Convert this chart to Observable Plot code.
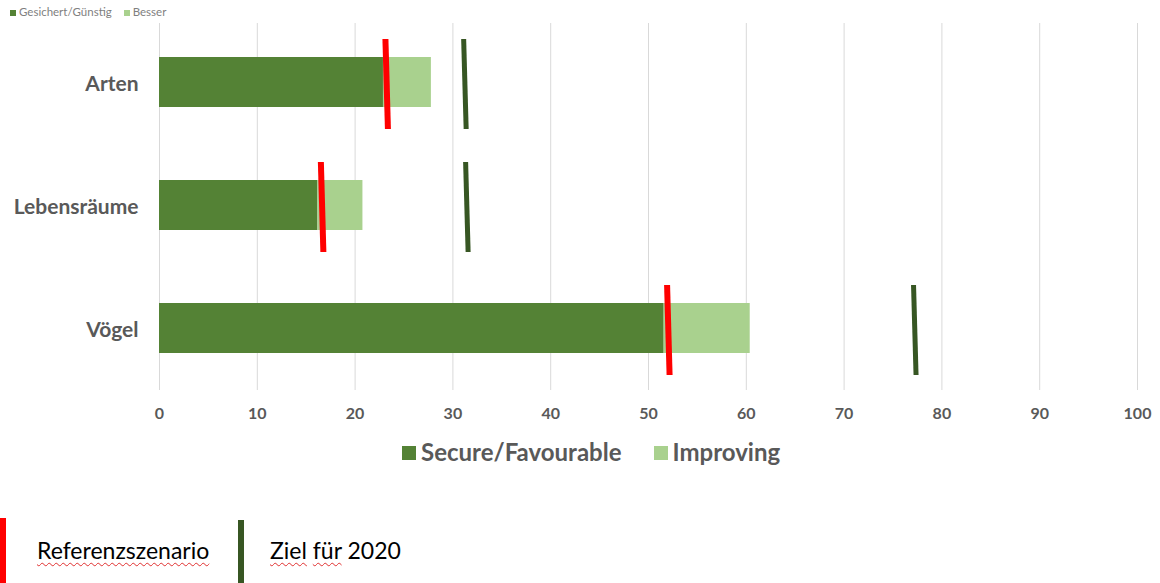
<!DOCTYPE html>
<html>
<head>
<meta charset="utf-8">
<script src="https://cdn.jsdelivr.net/npm/d3@7"></script>
<script src="https://cdn.jsdelivr.net/npm/@observablehq/plot@0.6"></script>
<style>
  body { margin: 0; background: #fff; font-family: Lato, "Open Sans", sans-serif; width: 1160px; height: 583px; overflow: hidden; position: relative; }
  #toplegend { position: absolute; left: 10px; top: 5px; font-size: 11.5px; color: #7f7f7f; z-index: 2; white-space: nowrap; }
  #toplegend span.sw { display: inline-block; width: 6px; height: 6px; margin-right: 3px; }
  #chart { position: absolute; left: 0; top: 0; z-index: 1; }
  #legend { position: absolute; left: 402px; top: 437px; font-size: 24px; font-weight: bold; color: #595959; white-space: nowrap; z-index: 2; }
  #legend span.sw { display: inline-block; width: 14px; height: 14px; margin-right: 5px; vertical-align: 1px; }
  .ml { position: absolute; width: 6px; z-index: 2; }
  .ml-text { position: absolute; font-size: 23px; color: #000; z-index: 2; white-space: nowrap; }
  .sp { text-decoration: underline wavy #e03030; text-decoration-thickness: 1px; text-underline-offset: 3px; }
</style>
</head>
<body>
<div id="toplegend"><span class="sw" style="background:#548235"></span>Gesichert/Günstig<span class="sw" style="background:#a9d18e; margin-left:12px"></span>Besser</div>
<div id="chart"></div>
<div id="legend"><span class="sw" style="background:#548235"></span>Secure/Favourable<span class="sw" style="background:#a9d18e; margin-left:32px"></span>Improving</div>
<div class="ml" style="left:0px; top:518px; height:65px; background:#ff0000;"></div>
<div class="ml-text" style="left:37px; top:536px;"><span class="sp">Referenzszenario</span></div>
<div class="ml" style="left:238px; top:520px; height:63px; background:#375623;"></div>
<div class="ml-text" style="left:270px; top:536px;"><span class="sp">Ziel</span> <span class="sp">für</span> 2020</div>
<script>
const categories = ["Arten", "Lebensräume", "Vögel"];
const secure = [22.9, 16.2, 51.6];
const improving = [4.9, 4.6, 8.8];
const reference = [23.1, 16.5, 51.9];
const target = [31.1, 31.3, 77.1];
const xTicks = [0, 10, 20, 30, 40, 50, 60, 70, 80, 90, 100];
const seriesNames = ["Secure/Favourable", "Improving"];
const colors = ["#548235", "#a9d18e"];

const stacked = [];
categories.forEach((c, i) => {
  stacked.push({cat: c, series: seriesNames[0], value: secure[i]});
  stacked.push({cat: c, series: seriesNames[1], value: improving[i]});
});
const refData = categories.map((c, i) => ({cat: c, value: reference[i]}));
const tgtData = categories.map((c, i) => ({cat: c, value: target[i]}));

function tilt(dx) {
  return function(index, scales, values, dims, ctx, next) {
    const g = next(index, scales, values, dims, ctx);
    g.querySelectorAll("line").forEach(l => {
      l.setAttribute("x2", +l.getAttribute("x2") + dx);
    });
    return g;
  };
}

const plot = Plot.plot({
  width: 1160,
  height: 430,
  marginLeft: 159,
  marginRight: 23,
  marginTop: 23,
  marginBottom: 40,
  style: {fontFamily: "Lato, 'Open Sans', sans-serif", background: "white"},
  x: {domain: [0, 100], ticks: xTicks, grid: false, label: null},
  y: {domain: categories, paddingInner: 0.27, paddingOuter: 0.12, label: null},
  color: {domain: seriesNames, range: colors},
  marks: [
    Plot.gridX(xTicks, {stroke: "#d9d9d9", strokeOpacity: 1, strokeWidth: 1}),
    Plot.barX(stacked, Plot.stackX({y: "cat", x: "value", fill: "series", order: seriesNames, insetTop: 18, insetBottom: 22})),
    Plot.tickX(refData, {y: "cat", x: "value", stroke: "#ff0000", strokeWidth: 6, render: tilt(2.5)}),
    Plot.tickX(tgtData, {y: "cat", x: "value", stroke: "#375623", strokeWidth: 5, render: tilt(2.5)}),
    Plot.axisX({ticks: xTicks, tickSize: 0, tickPadding: 17, fontSize: 16, fontWeight: "bold", fill: "#595959", label: null, tickFormat: d => d}),
    Plot.axisY({tickSize: 0, tickPadding: 21, fontSize: 21, fontWeight: "bold", fill: "#595959", label: null})
  ]
});
document.getElementById("chart").appendChild(plot);
</script>
</body>
</html>
